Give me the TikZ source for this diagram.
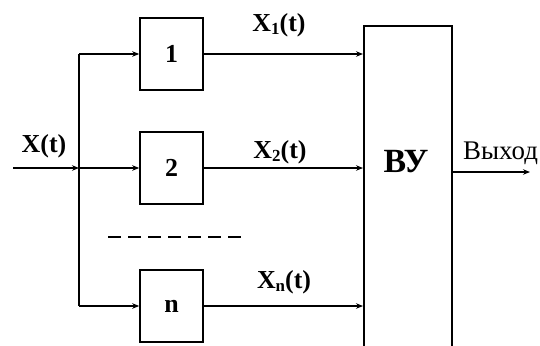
\documentclass[tikz,border=0pt]{standalone}
\usepackage{fontspec}
\setmainfont{Liberation Serif}
\usetikzlibrary{arrows.meta}
\newcommand{\sbx}[1]{\raisebox{-3.5bp}{\fontsize{17}{17}\selectfont #1}}
\begin{document}
\begin{tikzpicture}[x=1bp,y=-1bp,
  wire/.style={line width=1.4bp},
  arr/.style={wire,-{Stealth[length=7bp,width=5.5bp]}},
  blk/.style={draw,line width=1.6bp,minimum width=63bp,minimum height=72bp,inner sep=0pt,
    font=\fontsize{26}{26}\selectfont\bfseries},
  lbl/.style={inner sep=0pt,font=\fontsize{26}{26}\selectfont\bfseries}]
\useasboundingbox (0,0) rectangle (540,345);
% blocks
\node[blk] (b1) at (171.5,54) {1};
\node[blk] (b2) at (171.5,168) {2};
\node[blk] (bn) at (171.5,306) {n};
\node[draw,line width=1.6bp,minimum width=88bp,minimum height=330bp,anchor=north west,inner sep=0pt] (vu) at (363,25) {};
\node[inner sep=0pt,font=\fontsize{34}{34}\selectfont\bfseries] (vut) at (406,162) {ВУ};
% bus
\coordinate (in) at (13,168);
\coordinate (bt) at (79,54);
\coordinate (bm) at (79,168);
\coordinate (bb) at (79,306);
\coordinate (out) at (530,172);
\draw[wire] (bt) -- (bb);
\draw[arr] (in) -- (bm);
\draw[arr] (bt) -- (b1.west);
\draw[arr] (bm) -- (b2.west);
\draw[arr] (bb) -- (bn.west);
\draw[arr] (b1.east) -- (b1.east -| vu.west);
\draw[arr] (b2.east) -- (b2.east -| vu.west);
\draw[arr] (bn.east) -- (bn.east -| vu.west);
\draw[arr] (vu.east |- out) -- (out);
% dashes
\coordinate (d1) at (108,237);
\coordinate (d2) at (243,237);
\draw[line width=2.6bp,dash pattern=on 13bp off 7bp] (d1) -- (d2);
% labels
\node[lbl] (lx) at (44,146) {X(t)};
\node[lbl] (l1) at (279,25) {X\sbx{1}(t)};
\node[lbl] (l2) at (280,152) {X\sbx{2}(t)};
\node[lbl] (ln) at (284,282) {X\sbx{n}(t)};
\node[inner sep=0pt,anchor=west,font=\fontsize{27}{27}\selectfont] (lout) at (463,153) {Выход};
\end{tikzpicture}
\end{document}
